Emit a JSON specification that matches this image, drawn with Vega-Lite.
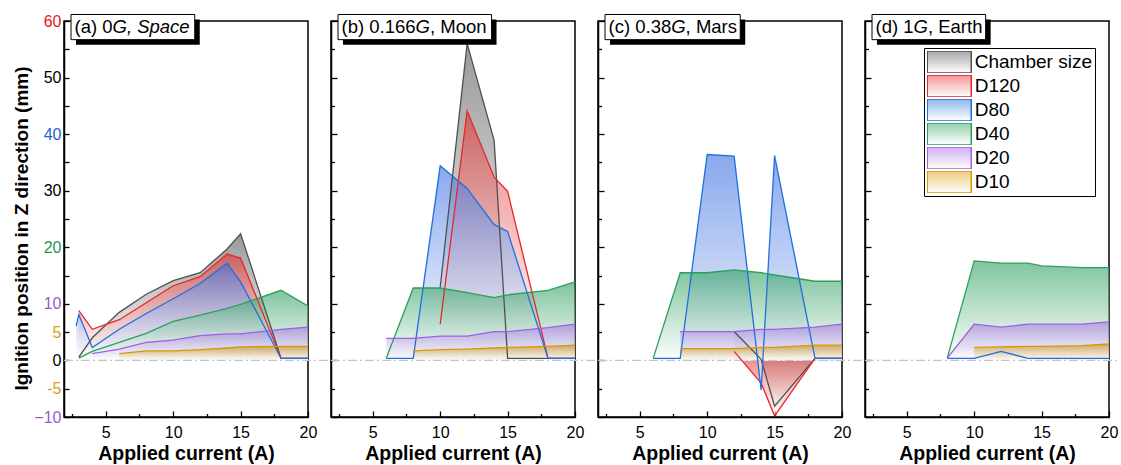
{
"$schema": "https://vega.github.io/schema/vega-lite/v6.json",
"autosize": {"type": "pad"},
"padding": {"left": 11, "top": 12, "right": 2, "bottom": 2},
"background": "white",
"bounds": "flush",
"spacing": 23,
"config": {
  "font": "Liberation Sans",
  "view": {"stroke": "#000000", "strokeWidth": 1.5},
  "axis": {"domainColor": "#000000", "domainWidth": 1.5, "tickColor": "#000000", "tickWidth": 1.3, "labelColor": "#000000", "titleColor": "#000000", "labelFont": "Liberation Sans", "titleFont": "Liberation Sans", "grid": false, "labelFontSize": 16, "titleFontSize": 19.5, "titleFontWeight": "bold", "labelFlush": false, "labelOverlap": false},
  "axisX": {"labelPadding": 13, "titlePadding": 2},
  "axisY": {"labelPadding": 8, "titleX": -33, "titleY": 207, "titleAngle": 270, "titleBaseline": "bottom", "titleAlign": "center", "titleFontSize": 19}
},
"resolve": {"scale": {"color": "shared"}, "legend": {"color": "shared"}},
"datasets": {
"pts": [
{"p":"a","s":"Chamber size","x":3,"y":0.6},{"p":"a","s":"Chamber size","x":4,"y":4.0},{"p":"a","s":"Chamber size","x":6,"y":8.5},{"p":"a","s":"Chamber size","x":8,"y":11.7},{"p":"a","s":"Chamber size","x":10,"y":14.1},{"p":"a","s":"Chamber size","x":12,"y":15.5},{"p":"a","s":"Chamber size","x":14,"y":19.7},{"p":"a","s":"Chamber size","x":15,"y":22.4},{"p":"a","s":"Chamber size","x":18,"y":0.35},{"p":"a","s":"Chamber size","x":20,"y":0.35},
{"p":"a","s":"D120","x":3,"y":8.8},{"p":"a","s":"D120","x":4,"y":5.5},{"p":"a","s":"D120","x":6,"y":7.2},{"p":"a","s":"D120","x":8,"y":10.2},{"p":"a","s":"D120","x":10,"y":13.2},{"p":"a","s":"D120","x":12,"y":14.8},{"p":"a","s":"D120","x":14,"y":18.8},{"p":"a","s":"D120","x":15,"y":18.1},{"p":"a","s":"D120","x":18,"y":0.35},{"p":"a","s":"D120","x":20,"y":0.35},
{"p":"a","s":"D80","x":2.8,"y":6.1},{"p":"a","s":"D80","x":3,"y":8.1},{"p":"a","s":"D80","x":4,"y":2.3},{"p":"a","s":"D80","x":6,"y":5.5},{"p":"a","s":"D80","x":8,"y":8.3},{"p":"a","s":"D80","x":10,"y":10.9},{"p":"a","s":"D80","x":12,"y":13.6},{"p":"a","s":"D80","x":14,"y":17.2},{"p":"a","s":"D80","x":15,"y":13.9},{"p":"a","s":"D80","x":18,"y":0.35},{"p":"a","s":"D80","x":20,"y":0.35},
{"p":"a","s":"D40","x":3,"y":0.4},{"p":"a","s":"D40","x":4,"y":1.6},{"p":"a","s":"D40","x":6,"y":3.2},{"p":"a","s":"D40","x":8,"y":4.8},{"p":"a","s":"D40","x":10,"y":6.9},{"p":"a","s":"D40","x":12,"y":8.0},{"p":"a","s":"D40","x":14,"y":9.2},{"p":"a","s":"D40","x":15,"y":9.9},{"p":"a","s":"D40","x":18,"y":12.4},{"p":"a","s":"D40","x":20,"y":9.6},
{"p":"a","s":"D20","x":4,"y":1.2},{"p":"a","s":"D20","x":6,"y":2.0},{"p":"a","s":"D20","x":8,"y":3.2},{"p":"a","s":"D20","x":10,"y":3.6},{"p":"a","s":"D20","x":12,"y":4.4},{"p":"a","s":"D20","x":14,"y":4.7},{"p":"a","s":"D20","x":15,"y":4.7},{"p":"a","s":"D20","x":18,"y":5.5},{"p":"a","s":"D20","x":20,"y":5.9},
{"p":"a","s":"D10","x":6,"y":1.2},{"p":"a","s":"D10","x":8,"y":1.7},{"p":"a","s":"D10","x":10,"y":1.7},{"p":"a","s":"D10","x":12,"y":1.9},{"p":"a","s":"D10","x":14,"y":2.2},{"p":"a","s":"D10","x":15,"y":2.4},{"p":"a","s":"D10","x":18,"y":2.5},{"p":"a","s":"D10","x":20,"y":2.5},
{"p":"b","s":"Chamber size","x":10,"y":12.9},{"p":"b","s":"Chamber size","x":12,"y":56.0},{"p":"b","s":"Chamber size","x":14,"y":38.9},{"p":"b","s":"Chamber size","x":15,"y":0.35},{"p":"b","s":"Chamber size","x":18,"y":0.35},{"p":"b","s":"Chamber size","x":20,"y":0.35},
{"p":"b","s":"D120","x":10,"y":6.4},{"p":"b","s":"D120","x":12,"y":44.1},{"p":"b","s":"D120","x":14,"y":32.4},{"p":"b","s":"D120","x":15,"y":29.9},{"p":"b","s":"D120","x":18,"y":0.35},{"p":"b","s":"D120","x":20,"y":0.35},
{"p":"b","s":"D80","x":6,"y":0.35},{"p":"b","s":"D80","x":8,"y":0.35},{"p":"b","s":"D80","x":10,"y":34.4},{"p":"b","s":"D80","x":12,"y":30.4},{"p":"b","s":"D80","x":14,"y":24.0},{"p":"b","s":"D80","x":15,"y":22.8},{"p":"b","s":"D80","x":18,"y":0.35},{"p":"b","s":"D80","x":20,"y":0.35},
{"p":"b","s":"D40","x":6,"y":0.4},{"p":"b","s":"D40","x":8,"y":12.8},{"p":"b","s":"D40","x":10,"y":12.8},{"p":"b","s":"D40","x":12,"y":12.0},{"p":"b","s":"D40","x":14,"y":11.1},{"p":"b","s":"D40","x":15,"y":11.6},{"p":"b","s":"D40","x":18,"y":12.4},{"p":"b","s":"D40","x":20,"y":13.9},
{"p":"b","s":"D20","x":6,"y":3.9},{"p":"b","s":"D20","x":8,"y":3.9},{"p":"b","s":"D20","x":10,"y":4.3},{"p":"b","s":"D20","x":12,"y":4.3},{"p":"b","s":"D20","x":14,"y":5.1},{"p":"b","s":"D20","x":15,"y":5.1},{"p":"b","s":"D20","x":18,"y":5.8},{"p":"b","s":"D20","x":20,"y":6.4},
{"p":"b","s":"D10","x":8,"y":1.7},{"p":"b","s":"D10","x":10,"y":1.9},{"p":"b","s":"D10","x":12,"y":2.0},{"p":"b","s":"D10","x":14,"y":2.2},{"p":"b","s":"D10","x":15,"y":2.3},{"p":"b","s":"D10","x":18,"y":2.5},{"p":"b","s":"D10","x":20,"y":2.7},
{"p":"c","s":"Chamber size","x":12,"y":5.1},{"p":"c","s":"Chamber size","x":14,"y":0.2},{"p":"c","s":"Chamber size","x":15,"y":-8.1},{"p":"c","s":"Chamber size","x":18,"y":0.35},{"p":"c","s":"Chamber size","x":20,"y":0.35},
{"p":"c","s":"D120","x":12,"y":1.6},{"p":"c","s":"D120","x":14,"y":-4.0},{"p":"c","s":"D120","x":15,"y":-9.8},{"p":"c","s":"D120","x":18,"y":0.35},{"p":"c","s":"D120","x":20,"y":0.35},
{"p":"c","s":"D80","x":6,"y":0.35},{"p":"c","s":"D80","x":8,"y":0.35},{"p":"c","s":"D80","x":10,"y":36.4},{"p":"c","s":"D80","x":12,"y":36.1},{"p":"c","s":"D80","x":14,"y":-5.2},{"p":"c","s":"D80","x":15,"y":36.2},{"p":"c","s":"D80","x":18,"y":0.35},{"p":"c","s":"D80","x":20,"y":0.35},
{"p":"c","s":"D40","x":6,"y":0.4},{"p":"c","s":"D40","x":8,"y":15.5},{"p":"c","s":"D40","x":10,"y":15.5},{"p":"c","s":"D40","x":12,"y":16.0},{"p":"c","s":"D40","x":14,"y":15.5},{"p":"c","s":"D40","x":15,"y":15.1},{"p":"c","s":"D40","x":18,"y":14.0},{"p":"c","s":"D40","x":20,"y":14.0},
{"p":"c","s":"D20","x":8,"y":5.1},{"p":"c","s":"D20","x":10,"y":5.1},{"p":"c","s":"D20","x":12,"y":5.1},{"p":"c","s":"D20","x":14,"y":5.5},{"p":"c","s":"D20","x":15,"y":5.5},{"p":"c","s":"D20","x":18,"y":5.9},{"p":"c","s":"D20","x":20,"y":6.4},
{"p":"c","s":"D10","x":8,"y":2.1},{"p":"c","s":"D10","x":10,"y":2.1},{"p":"c","s":"D10","x":12,"y":2.1},{"p":"c","s":"D10","x":14,"y":2.3},{"p":"c","s":"D10","x":15,"y":2.3},{"p":"c","s":"D10","x":18,"y":2.7},{"p":"c","s":"D10","x":20,"y":2.7},
{"p":"d","s":"D80","x":8,"y":0.35},{"p":"d","s":"D80","x":10,"y":0.35},{"p":"d","s":"D80","x":12,"y":1.6},{"p":"d","s":"D80","x":14,"y":0.35},{"p":"d","s":"D80","x":15,"y":0.35},{"p":"d","s":"D80","x":18,"y":0.35},{"p":"d","s":"D80","x":20,"y":0.35},
{"p":"d","s":"D40","x":8,"y":0.4},{"p":"d","s":"D40","x":10,"y":17.6},{"p":"d","s":"D40","x":12,"y":17.2},{"p":"d","s":"D40","x":14,"y":17.2},{"p":"d","s":"D40","x":15,"y":16.7},{"p":"d","s":"D40","x":18,"y":16.4},{"p":"d","s":"D40","x":20,"y":16.4},
{"p":"d","s":"D20","x":8,"y":0.4},{"p":"d","s":"D20","x":10,"y":6.4},{"p":"d","s":"D20","x":12,"y":5.9},{"p":"d","s":"D20","x":14,"y":6.4},{"p":"d","s":"D20","x":15,"y":6.4},{"p":"d","s":"D20","x":18,"y":6.4},{"p":"d","s":"D20","x":20,"y":6.8},
{"p":"d","s":"D10","x":10,"y":2.3},{"p":"d","s":"D10","x":12,"y":2.4},{"p":"d","s":"D10","x":14,"y":2.5},{"p":"d","s":"D10","x":15,"y":2.5},{"p":"d","s":"D10","x":18,"y":2.6},{"p":"d","s":"D10","x":20,"y":2.9}
]
},
"hconcat": [
{
 "width": 244, "height": 396,
 "layer": [
  {"data": {"name": "pts"}, "transform": [{"filter": "datum.p=='a' && datum.s=='Chamber size'"}], "mark": {"type": "area", "fill": {"gradient": "linear", "x1": 0, "y1": 0, "x2": 0, "y2": 1, "stops": [{"offset": 0, "color": "#6e6e6e"}, {"offset": 1, "color": "#ffffff"}]}, "fillOpacity": 0.7},
   "encoding": {"x": {"field": "x", "type": "quantitative", "scale": {"domain": [1.9, 20], "nice": false, "zero": false}, "axis": {"values": [2.5,5,7.5,10,12.5,15,17.5,20], "labelExpr": "datum.value % 5 == 0 ? datum.label : ''", "tickSize": {"condition": {"test": "datum.value % 5 == 0", "value": -6}, "value": -3.5}, "title": "Applied current (A)"}},
    "y": {"field": "y", "type": "quantitative", "stack": null, "scale": {"domain": [-10, 60], "nice": false, "zero": false}, "axis": {"values": [-10,-5,0,5,10,15,20,25,30,35,40,45,50,55,60], "labelExpr": "(datum.value==15||datum.value==25||datum.value==35||datum.value==45||datum.value==55)?'':datum.value==-5?'-5':datum.value==-10?'−10':datum.label", "tickSize": -5, "labelColor": {"condition": [{"test": "datum.value == 60", "value": "#e8161c"}, {"test": "datum.value == 40", "value": "#1f5fd6"}, {"test": "datum.value == 20", "value": "#1a9850"}, {"test": "datum.value == 10 || datum.value == -10", "value": "#9b59d0"}, {"test": "datum.value == 5 || datum.value == -5", "value": "#d4a017"}], "value": "#000000"}, "title": "Ignition position in Z direction (mm)"}}}},
  {"data": {"name": "pts"}, "transform": [{"filter": "datum.p=='a' && datum.s=='D120'"}], "mark": {"type": "area", "fill": {"gradient": "linear", "x1": 0, "y1": 0, "x2": 0, "y2": 1, "stops": [{"offset": 0, "color": "#e03030"}, {"offset": 1, "color": "#ffffff"}]}, "fillOpacity": 0.6},
   "encoding": {"x": {"field": "x", "type": "quantitative", "scale": {"domain": [1.9, 20], "nice": false, "zero": false}, "axis": {"values": [2.5,5,7.5,10,12.5,15,17.5,20], "labelExpr": "datum.value % 5 == 0 ? datum.label : ''", "tickSize": {"condition": {"test": "datum.value % 5 == 0", "value": -6}, "value": -3.5}, "title": "Applied current (A)"}},
    "y": {"field": "y", "type": "quantitative", "stack": null, "scale": {"domain": [-10, 60], "nice": false, "zero": false}, "axis": {"values": [-10,-5,0,5,10,15,20,25,30,35,40,45,50,55,60], "labelExpr": "(datum.value==15||datum.value==25||datum.value==35||datum.value==45||datum.value==55)?'':datum.value==-5?'-5':datum.value==-10?'−10':datum.label", "tickSize": -5, "labelColor": {"condition": [{"test": "datum.value == 60", "value": "#e8161c"}, {"test": "datum.value == 40", "value": "#1f5fd6"}, {"test": "datum.value == 20", "value": "#1a9850"}, {"test": "datum.value == 10 || datum.value == -10", "value": "#9b59d0"}, {"test": "datum.value == 5 || datum.value == -5", "value": "#d4a017"}], "value": "#000000"}, "title": "Ignition position in Z direction (mm)"}}}},
  {"data": {"name": "pts"}, "transform": [{"filter": "datum.p=='a' && datum.s=='D80'"}], "mark": {"type": "area", "fill": {"gradient": "linear", "x1": 0, "y1": 0, "x2": 0, "y2": 1, "stops": [{"offset": 0, "color": "#3a6fe0"}, {"offset": 1, "color": "#ffffff"}]}, "fillOpacity": 0.6},
   "encoding": {"x": {"field": "x", "type": "quantitative", "scale": {"domain": [1.9, 20], "nice": false, "zero": false}, "axis": {"values": [2.5,5,7.5,10,12.5,15,17.5,20], "labelExpr": "datum.value % 5 == 0 ? datum.label : ''", "tickSize": {"condition": {"test": "datum.value % 5 == 0", "value": -6}, "value": -3.5}, "title": "Applied current (A)"}},
    "y": {"field": "y", "type": "quantitative", "stack": null, "scale": {"domain": [-10, 60], "nice": false, "zero": false}, "axis": {"values": [-10,-5,0,5,10,15,20,25,30,35,40,45,50,55,60], "labelExpr": "(datum.value==15||datum.value==25||datum.value==35||datum.value==45||datum.value==55)?'':datum.value==-5?'-5':datum.value==-10?'−10':datum.label", "tickSize": -5, "labelColor": {"condition": [{"test": "datum.value == 60", "value": "#e8161c"}, {"test": "datum.value == 40", "value": "#1f5fd6"}, {"test": "datum.value == 20", "value": "#1a9850"}, {"test": "datum.value == 10 || datum.value == -10", "value": "#9b59d0"}, {"test": "datum.value == 5 || datum.value == -5", "value": "#d4a017"}], "value": "#000000"}, "title": "Ignition position in Z direction (mm)"}}}},
  {"data": {"name": "pts"}, "transform": [{"filter": "datum.p=='a' && datum.s=='D40'"}], "mark": {"type": "area", "fill": {"gradient": "linear", "x1": 0, "y1": 0, "x2": 0, "y2": 1, "stops": [{"offset": 0, "color": "#2a9d5c"}, {"offset": 1, "color": "#ffffff"}]}, "fillOpacity": 0.6},
   "encoding": {"x": {"field": "x", "type": "quantitative", "scale": {"domain": [1.9, 20], "nice": false, "zero": false}, "axis": {"values": [2.5,5,7.5,10,12.5,15,17.5,20], "labelExpr": "datum.value % 5 == 0 ? datum.label : ''", "tickSize": {"condition": {"test": "datum.value % 5 == 0", "value": -6}, "value": -3.5}, "title": "Applied current (A)"}},
    "y": {"field": "y", "type": "quantitative", "stack": null, "scale": {"domain": [-10, 60], "nice": false, "zero": false}, "axis": {"values": [-10,-5,0,5,10,15,20,25,30,35,40,45,50,55,60], "labelExpr": "(datum.value==15||datum.value==25||datum.value==35||datum.value==45||datum.value==55)?'':datum.value==-5?'-5':datum.value==-10?'−10':datum.label", "tickSize": -5, "labelColor": {"condition": [{"test": "datum.value == 60", "value": "#e8161c"}, {"test": "datum.value == 40", "value": "#1f5fd6"}, {"test": "datum.value == 20", "value": "#1a9850"}, {"test": "datum.value == 10 || datum.value == -10", "value": "#9b59d0"}, {"test": "datum.value == 5 || datum.value == -5", "value": "#d4a017"}], "value": "#000000"}, "title": "Ignition position in Z direction (mm)"}}}},
  {"data": {"name": "pts"}, "transform": [{"filter": "datum.p=='a' && datum.s=='D20'"}], "mark": {"type": "area", "fill": {"gradient": "linear", "x1": 0, "y1": 0, "x2": 0, "y2": 1, "stops": [{"offset": 0, "color": "#9b5fe0"}, {"offset": 1, "color": "#ffffff"}]}, "fillOpacity": 0.5},
   "encoding": {"x": {"field": "x", "type": "quantitative", "scale": {"domain": [1.9, 20], "nice": false, "zero": false}, "axis": {"values": [2.5,5,7.5,10,12.5,15,17.5,20], "labelExpr": "datum.value % 5 == 0 ? datum.label : ''", "tickSize": {"condition": {"test": "datum.value % 5 == 0", "value": -6}, "value": -3.5}, "title": "Applied current (A)"}},
    "y": {"field": "y", "type": "quantitative", "stack": null, "scale": {"domain": [-10, 60], "nice": false, "zero": false}, "axis": {"values": [-10,-5,0,5,10,15,20,25,30,35,40,45,50,55,60], "labelExpr": "(datum.value==15||datum.value==25||datum.value==35||datum.value==45||datum.value==55)?'':datum.value==-5?'-5':datum.value==-10?'−10':datum.label", "tickSize": -5, "labelColor": {"condition": [{"test": "datum.value == 60", "value": "#e8161c"}, {"test": "datum.value == 40", "value": "#1f5fd6"}, {"test": "datum.value == 20", "value": "#1a9850"}, {"test": "datum.value == 10 || datum.value == -10", "value": "#9b59d0"}, {"test": "datum.value == 5 || datum.value == -5", "value": "#d4a017"}], "value": "#000000"}, "title": "Ignition position in Z direction (mm)"}}}},
  {"data": {"name": "pts"}, "transform": [{"filter": "datum.p=='a' && datum.s=='D10'"}], "mark": {"type": "area", "fill": {"gradient": "linear", "x1": 0, "y1": 0, "x2": 0, "y2": 1, "stops": [{"offset": 0, "color": "#c08a10"}, {"offset": 1, "color": "#ffffff"}]}, "fillOpacity": 0.6},
   "encoding": {"x": {"field": "x", "type": "quantitative", "scale": {"domain": [1.9, 20], "nice": false, "zero": false}, "axis": {"values": [2.5,5,7.5,10,12.5,15,17.5,20], "labelExpr": "datum.value % 5 == 0 ? datum.label : ''", "tickSize": {"condition": {"test": "datum.value % 5 == 0", "value": -6}, "value": -3.5}, "title": "Applied current (A)"}},
    "y": {"field": "y", "type": "quantitative", "stack": null, "scale": {"domain": [-10, 60], "nice": false, "zero": false}, "axis": {"values": [-10,-5,0,5,10,15,20,25,30,35,40,45,50,55,60], "labelExpr": "(datum.value==15||datum.value==25||datum.value==35||datum.value==45||datum.value==55)?'':datum.value==-5?'-5':datum.value==-10?'−10':datum.label", "tickSize": -5, "labelColor": {"condition": [{"test": "datum.value == 60", "value": "#e8161c"}, {"test": "datum.value == 40", "value": "#1f5fd6"}, {"test": "datum.value == 20", "value": "#1a9850"}, {"test": "datum.value == 10 || datum.value == -10", "value": "#9b59d0"}, {"test": "datum.value == 5 || datum.value == -5", "value": "#d4a017"}], "value": "#000000"}, "title": "Ignition position in Z direction (mm)"}}}},
  {"data": {"values": [{"k": 1}]}, "mark": {"type": "rule", "color": "#c4c4c4", "strokeWidth": 1.2, "strokeDash": [9, 3, 2, 3]},
   "encoding": {"x": {"datum": 1.9, "type": "quantitative", "scale": {"domain": [1.9, 20], "nice": false, "zero": false}, "axis": {"values": [2.5,5,7.5,10,12.5,15,17.5,20], "labelExpr": "datum.value % 5 == 0 ? datum.label : ''", "tickSize": {"condition": {"test": "datum.value % 5 == 0", "value": -6}, "value": -3.5}, "title": "Applied current (A)"}}, "x2": {"datum": 21.6},
    "y": {"datum": 0, "type": "quantitative", "scale": {"domain": [-10, 60], "nice": false, "zero": false}, "axis": {"values": [-10,-5,0,5,10,15,20,25,30,35,40,45,50,55,60], "labelExpr": "(datum.value==15||datum.value==25||datum.value==35||datum.value==45||datum.value==55)?'':datum.value==-5?'-5':datum.value==-10?'−10':datum.label", "tickSize": -5, "labelColor": {"condition": [{"test": "datum.value == 60", "value": "#e8161c"}, {"test": "datum.value == 40", "value": "#1f5fd6"}, {"test": "datum.value == 20", "value": "#1a9850"}, {"test": "datum.value == 10 || datum.value == -10", "value": "#9b59d0"}, {"test": "datum.value == 5 || datum.value == -5", "value": "#d4a017"}], "value": "#000000"}, "title": "Ignition position in Z direction (mm)"}}}},
  {"data": {"name": "pts"}, "transform": [{"filter": "datum.p=='a'"}], "mark": {"type": "line", "strokeWidth": 1.3},
   "encoding": {"x": {"field": "x", "type": "quantitative", "scale": {"domain": [1.9, 20], "nice": false, "zero": false}, "axis": {"values": [2.5,5,7.5,10,12.5,15,17.5,20], "labelExpr": "datum.value % 5 == 0 ? datum.label : ''", "tickSize": {"condition": {"test": "datum.value % 5 == 0", "value": -6}, "value": -3.5}, "title": "Applied current (A)"}},
    "y": {"field": "y", "type": "quantitative", "stack": null, "scale": {"domain": [-10, 60], "nice": false, "zero": false}, "axis": {"values": [-10,-5,0,5,10,15,20,25,30,35,40,45,50,55,60], "labelExpr": "(datum.value==15||datum.value==25||datum.value==35||datum.value==45||datum.value==55)?'':datum.value==-5?'-5':datum.value==-10?'−10':datum.label", "tickSize": -5, "labelColor": {"condition": [{"test": "datum.value == 60", "value": "#e8161c"}, {"test": "datum.value == 40", "value": "#1f5fd6"}, {"test": "datum.value == 20", "value": "#1a9850"}, {"test": "datum.value == 10 || datum.value == -10", "value": "#9b59d0"}, {"test": "datum.value == 5 || datum.value == -5", "value": "#d4a017"}], "value": "#000000"}, "title": "Ignition position in Z direction (mm)"}},
    "color": {"field": "s", "type": "nominal", "scale": {"domain": ["Chamber size","D120","D80","D40","D20","D10"], "range": ["#505050","#e8262a","#1f6fde","#2aa15a","#a25de6","#d49b00"]},
     "legend": {"orient": "none", "legendX": 860, "legendY": 27, "title": null, "symbolType": "M-2,-1H2V1H-2Z", "symbolSize": 484, "symbolStrokeWidth": 1.5, "symbolOffset": 10.25, "labelOffset": 13.5, "labelFontSize": 19, "labelFont": "Liberation Sans", "labelColor": "#000000", "rowPadding": 2, "clipHeight": 22, "padding": 3, "strokeColor": "#000000", "fillColor": "#ffffff", "cornerRadius": 0, "labelLimit": 300,
       "encode": {"symbols": {"update": {"fill": {"signal": "{gradient:'linear',x1:0,y1:0,x2:0,y2:1,stops:[{offset:0,color:scale('color',datum.value)},{offset:1,color:'#ffffff'}]}"}, "fillOpacity": {"value": 0.5}}}}}}}},
  {"data": {"values": [{"k": 1}]}, "mark": {"type": "rect", "color": "#000000"},
   "encoding": {"x": {"datum": 2.79, "type": "quantitative", "scale": {"domain": [1.9, 20], "nice": false, "zero": false}, "axis": {"values": [2.5,5,7.5,10,12.5,15,17.5,20], "labelExpr": "datum.value % 5 == 0 ? datum.label : ''", "tickSize": {"condition": {"test": "datum.value % 5 == 0", "value": -6}, "value": -3.5}, "title": "Applied current (A)"}}, "x2": {"datum": 11.97},
    "y": {"datum": 60.27, "type": "quantitative", "scale": {"domain": [-10, 60], "nice": false, "zero": false}, "axis": {"values": [-10,-5,0,5,10,15,20,25,30,35,40,45,50,55,60], "labelExpr": "(datum.value==15||datum.value==25||datum.value==35||datum.value==45||datum.value==55)?'':datum.value==-5?'-5':datum.value==-10?'−10':datum.label", "tickSize": -5, "labelColor": {"condition": [{"test": "datum.value == 60", "value": "#e8161c"}, {"test": "datum.value == 40", "value": "#1f5fd6"}, {"test": "datum.value == 20", "value": "#1a9850"}, {"test": "datum.value == 10 || datum.value == -10", "value": "#9b59d0"}, {"test": "datum.value == 5 || datum.value == -5", "value": "#d4a017"}], "value": "#000000"}, "title": "Ignition position in Z direction (mm)"}}, "y2": {"datum": 55.8}}},
  {"data": {"values": [{"k": 1}]}, "mark": {"type": "rect", "fill": "#ffffff", "stroke": "#000000", "strokeWidth": 1},
   "encoding": {"x": {"datum": 2.42, "type": "quantitative", "scale": {"domain": [1.9, 20], "nice": false, "zero": false}, "axis": {"values": [2.5,5,7.5,10,12.5,15,17.5,20], "labelExpr": "datum.value % 5 == 0 ? datum.label : ''", "tickSize": {"condition": {"test": "datum.value % 5 == 0", "value": -6}, "value": -3.5}, "title": "Applied current (A)"}}, "x2": {"datum": 11.6},
    "y": {"datum": 61.15, "type": "quantitative", "scale": {"domain": [-10, 60], "nice": false, "zero": false}, "axis": {"values": [-10,-5,0,5,10,15,20,25,30,35,40,45,50,55,60], "labelExpr": "(datum.value==15||datum.value==25||datum.value==35||datum.value==45||datum.value==55)?'':datum.value==-5?'-5':datum.value==-10?'−10':datum.label", "tickSize": -5, "labelColor": {"condition": [{"test": "datum.value == 60", "value": "#e8161c"}, {"test": "datum.value == 40", "value": "#1f5fd6"}, {"test": "datum.value == 20", "value": "#1a9850"}, {"test": "datum.value == 10 || datum.value == -10", "value": "#9b59d0"}, {"test": "datum.value == 5 || datum.value == -5", "value": "#d4a017"}], "value": "#000000"}, "title": "Ignition position in Z direction (mm)"}}, "y2": {"datum": 56.7}}},
  {"data": {"values": [{"t": "(a) 0"}]}, "mark": {"type": "text", "align": "left", "baseline": "middle", "fontSize": 18.5, "font": "Liberation Sans", "color": "#000000"},
   "encoding": {"x": {"datum": 2.68, "type": "quantitative", "scale": {"domain": [1.9, 20], "nice": false, "zero": false}, "axis": {"values": [2.5,5,7.5,10,12.5,15,17.5,20], "labelExpr": "datum.value % 5 == 0 ? datum.label : ''", "tickSize": {"condition": {"test": "datum.value % 5 == 0", "value": -6}, "value": -3.5}, "title": "Applied current (A)"}},
    "y": {"datum": 58.9, "type": "quantitative", "scale": {"domain": [-10, 60], "nice": false, "zero": false}, "axis": {"values": [-10,-5,0,5,10,15,20,25,30,35,40,45,50,55,60], "labelExpr": "(datum.value==15||datum.value==25||datum.value==35||datum.value==45||datum.value==55)?'':datum.value==-5?'-5':datum.value==-10?'−10':datum.label", "tickSize": -5, "labelColor": {"condition": [{"test": "datum.value == 60", "value": "#e8161c"}, {"test": "datum.value == 40", "value": "#1f5fd6"}, {"test": "datum.value == 20", "value": "#1a9850"}, {"test": "datum.value == 10 || datum.value == -10", "value": "#9b59d0"}, {"test": "datum.value == 5 || datum.value == -5", "value": "#d4a017"}], "value": "#000000"}, "title": "Ignition position in Z direction (mm)"}}, "text": {"field": "t"}}},
  {"data": {"values": [{"t": "G, Space"}]}, "mark": {"type": "text", "align": "left", "baseline": "middle", "fontSize": 18.5, "font": "Liberation Sans", "fontStyle": "italic", "color": "#000000"},
   "encoding": {"x": {"datum": 5.5, "type": "quantitative", "scale": {"domain": [1.9, 20], "nice": false, "zero": false}, "axis": {"values": [2.5,5,7.5,10,12.5,15,17.5,20], "labelExpr": "datum.value % 5 == 0 ? datum.label : ''", "tickSize": {"condition": {"test": "datum.value % 5 == 0", "value": -6}, "value": -3.5}, "title": "Applied current (A)"}},
    "y": {"datum": 58.9, "type": "quantitative", "scale": {"domain": [-10, 60], "nice": false, "zero": false}, "axis": {"values": [-10,-5,0,5,10,15,20,25,30,35,40,45,50,55,60], "labelExpr": "(datum.value==15||datum.value==25||datum.value==35||datum.value==45||datum.value==55)?'':datum.value==-5?'-5':datum.value==-10?'−10':datum.label", "tickSize": -5, "labelColor": {"condition": [{"test": "datum.value == 60", "value": "#e8161c"}, {"test": "datum.value == 40", "value": "#1f5fd6"}, {"test": "datum.value == 20", "value": "#1a9850"}, {"test": "datum.value == 10 || datum.value == -10", "value": "#9b59d0"}, {"test": "datum.value == 5 || datum.value == -5", "value": "#d4a017"}], "value": "#000000"}, "title": "Ignition position in Z direction (mm)"}}, "text": {"field": "t"}}}
 ]
},
{
 "width": 244, "height": 396,
 "layer": [
  {"data": {"name": "pts"}, "transform": [{"filter": "datum.p=='b' && datum.s=='Chamber size'"}], "mark": {"type": "area", "fill": {"gradient": "linear", "x1": 0, "y1": 0, "x2": 0, "y2": 1, "stops": [{"offset": 0, "color": "#6e6e6e"}, {"offset": 1, "color": "#ffffff"}]}, "fillOpacity": 0.7},
   "encoding": {"x": {"field": "x", "type": "quantitative", "scale": {"domain": [1.9, 20], "nice": false, "zero": false}, "axis": {"values": [2.5,5,7.5,10,12.5,15,17.5,20], "labelExpr": "datum.value % 5 == 0 ? datum.label : ''", "tickSize": {"condition": {"test": "datum.value % 5 == 0", "value": -6}, "value": -3.5}, "title": "Applied current (A)"}},
    "y": {"field": "y", "type": "quantitative", "stack": null, "scale": {"domain": [-10, 60], "nice": false, "zero": false}, "axis": {"values": [-10,-5,0,5,10,15,20,25,30,35,40,45,50,55,60], "labels": false, "title": null, "tickSize": {"condition": {"test": "datum.value % 10 == 0", "value": -6}, "value": -3.5}}}}},
  {"data": {"name": "pts"}, "transform": [{"filter": "datum.p=='b' && datum.s=='D120'"}], "mark": {"type": "area", "fill": {"gradient": "linear", "x1": 0, "y1": 0, "x2": 0, "y2": 1, "stops": [{"offset": 0, "color": "#e03030"}, {"offset": 1, "color": "#ffffff"}]}, "fillOpacity": 0.6},
   "encoding": {"x": {"field": "x", "type": "quantitative", "scale": {"domain": [1.9, 20], "nice": false, "zero": false}, "axis": {"values": [2.5,5,7.5,10,12.5,15,17.5,20], "labelExpr": "datum.value % 5 == 0 ? datum.label : ''", "tickSize": {"condition": {"test": "datum.value % 5 == 0", "value": -6}, "value": -3.5}, "title": "Applied current (A)"}},
    "y": {"field": "y", "type": "quantitative", "stack": null, "scale": {"domain": [-10, 60], "nice": false, "zero": false}, "axis": {"values": [-10,-5,0,5,10,15,20,25,30,35,40,45,50,55,60], "labels": false, "title": null, "tickSize": {"condition": {"test": "datum.value % 10 == 0", "value": -6}, "value": -3.5}}}}},
  {"data": {"name": "pts"}, "transform": [{"filter": "datum.p=='b' && datum.s=='D80'"}], "mark": {"type": "area", "fill": {"gradient": "linear", "x1": 0, "y1": 0, "x2": 0, "y2": 1, "stops": [{"offset": 0, "color": "#3a6fe0"}, {"offset": 1, "color": "#ffffff"}]}, "fillOpacity": 0.6},
   "encoding": {"x": {"field": "x", "type": "quantitative", "scale": {"domain": [1.9, 20], "nice": false, "zero": false}, "axis": {"values": [2.5,5,7.5,10,12.5,15,17.5,20], "labelExpr": "datum.value % 5 == 0 ? datum.label : ''", "tickSize": {"condition": {"test": "datum.value % 5 == 0", "value": -6}, "value": -3.5}, "title": "Applied current (A)"}},
    "y": {"field": "y", "type": "quantitative", "stack": null, "scale": {"domain": [-10, 60], "nice": false, "zero": false}, "axis": {"values": [-10,-5,0,5,10,15,20,25,30,35,40,45,50,55,60], "labels": false, "title": null, "tickSize": {"condition": {"test": "datum.value % 10 == 0", "value": -6}, "value": -3.5}}}}},
  {"data": {"name": "pts"}, "transform": [{"filter": "datum.p=='b' && datum.s=='D40'"}], "mark": {"type": "area", "fill": {"gradient": "linear", "x1": 0, "y1": 0, "x2": 0, "y2": 1, "stops": [{"offset": 0, "color": "#2a9d5c"}, {"offset": 1, "color": "#ffffff"}]}, "fillOpacity": 0.6},
   "encoding": {"x": {"field": "x", "type": "quantitative", "scale": {"domain": [1.9, 20], "nice": false, "zero": false}, "axis": {"values": [2.5,5,7.5,10,12.5,15,17.5,20], "labelExpr": "datum.value % 5 == 0 ? datum.label : ''", "tickSize": {"condition": {"test": "datum.value % 5 == 0", "value": -6}, "value": -3.5}, "title": "Applied current (A)"}},
    "y": {"field": "y", "type": "quantitative", "stack": null, "scale": {"domain": [-10, 60], "nice": false, "zero": false}, "axis": {"values": [-10,-5,0,5,10,15,20,25,30,35,40,45,50,55,60], "labels": false, "title": null, "tickSize": {"condition": {"test": "datum.value % 10 == 0", "value": -6}, "value": -3.5}}}}},
  {"data": {"name": "pts"}, "transform": [{"filter": "datum.p=='b' && datum.s=='D20'"}], "mark": {"type": "area", "fill": {"gradient": "linear", "x1": 0, "y1": 0, "x2": 0, "y2": 1, "stops": [{"offset": 0, "color": "#9b5fe0"}, {"offset": 1, "color": "#ffffff"}]}, "fillOpacity": 0.5},
   "encoding": {"x": {"field": "x", "type": "quantitative", "scale": {"domain": [1.9, 20], "nice": false, "zero": false}, "axis": {"values": [2.5,5,7.5,10,12.5,15,17.5,20], "labelExpr": "datum.value % 5 == 0 ? datum.label : ''", "tickSize": {"condition": {"test": "datum.value % 5 == 0", "value": -6}, "value": -3.5}, "title": "Applied current (A)"}},
    "y": {"field": "y", "type": "quantitative", "stack": null, "scale": {"domain": [-10, 60], "nice": false, "zero": false}, "axis": {"values": [-10,-5,0,5,10,15,20,25,30,35,40,45,50,55,60], "labels": false, "title": null, "tickSize": {"condition": {"test": "datum.value % 10 == 0", "value": -6}, "value": -3.5}}}}},
  {"data": {"name": "pts"}, "transform": [{"filter": "datum.p=='b' && datum.s=='D10'"}], "mark": {"type": "area", "fill": {"gradient": "linear", "x1": 0, "y1": 0, "x2": 0, "y2": 1, "stops": [{"offset": 0, "color": "#c08a10"}, {"offset": 1, "color": "#ffffff"}]}, "fillOpacity": 0.6},
   "encoding": {"x": {"field": "x", "type": "quantitative", "scale": {"domain": [1.9, 20], "nice": false, "zero": false}, "axis": {"values": [2.5,5,7.5,10,12.5,15,17.5,20], "labelExpr": "datum.value % 5 == 0 ? datum.label : ''", "tickSize": {"condition": {"test": "datum.value % 5 == 0", "value": -6}, "value": -3.5}, "title": "Applied current (A)"}},
    "y": {"field": "y", "type": "quantitative", "stack": null, "scale": {"domain": [-10, 60], "nice": false, "zero": false}, "axis": {"values": [-10,-5,0,5,10,15,20,25,30,35,40,45,50,55,60], "labels": false, "title": null, "tickSize": {"condition": {"test": "datum.value % 10 == 0", "value": -6}, "value": -3.5}}}}},
  {"data": {"values": [{"k": 1}]}, "mark": {"type": "rule", "color": "#c4c4c4", "strokeWidth": 1.2, "strokeDash": [9, 3, 2, 3]},
   "encoding": {"x": {"datum": 1.9, "type": "quantitative", "scale": {"domain": [1.9, 20], "nice": false, "zero": false}, "axis": {"values": [2.5,5,7.5,10,12.5,15,17.5,20], "labelExpr": "datum.value % 5 == 0 ? datum.label : ''", "tickSize": {"condition": {"test": "datum.value % 5 == 0", "value": -6}, "value": -3.5}, "title": "Applied current (A)"}}, "x2": {"datum": 21.6},
    "y": {"datum": 0, "type": "quantitative", "scale": {"domain": [-10, 60], "nice": false, "zero": false}, "axis": {"values": [-10,-5,0,5,10,15,20,25,30,35,40,45,50,55,60], "labels": false, "title": null, "tickSize": {"condition": {"test": "datum.value % 10 == 0", "value": -6}, "value": -3.5}}}}},
  {"data": {"name": "pts"}, "transform": [{"filter": "datum.p=='b'"}], "mark": {"type": "line", "strokeWidth": 1.3},
   "encoding": {"x": {"field": "x", "type": "quantitative", "scale": {"domain": [1.9, 20], "nice": false, "zero": false}, "axis": {"values": [2.5,5,7.5,10,12.5,15,17.5,20], "labelExpr": "datum.value % 5 == 0 ? datum.label : ''", "tickSize": {"condition": {"test": "datum.value % 5 == 0", "value": -6}, "value": -3.5}, "title": "Applied current (A)"}},
    "y": {"field": "y", "type": "quantitative", "stack": null, "scale": {"domain": [-10, 60], "nice": false, "zero": false}, "axis": {"values": [-10,-5,0,5,10,15,20,25,30,35,40,45,50,55,60], "labels": false, "title": null, "tickSize": {"condition": {"test": "datum.value % 10 == 0", "value": -6}, "value": -3.5}}},
    "color": {"field": "s", "type": "nominal", "scale": {"domain": ["Chamber size","D120","D80","D40","D20","D10"], "range": ["#505050","#e8262a","#1f6fde","#2aa15a","#a25de6","#d49b00"]}}}},
  {"data": {"values": [{"k": 1}]}, "mark": {"type": "rect", "color": "#000000"},
   "encoding": {"x": {"datum": 2.79, "type": "quantitative", "scale": {"domain": [1.9, 20], "nice": false, "zero": false}, "axis": {"values": [2.5,5,7.5,10,12.5,15,17.5,20], "labelExpr": "datum.value % 5 == 0 ? datum.label : ''", "tickSize": {"condition": {"test": "datum.value % 5 == 0", "value": -6}, "value": -3.5}, "title": "Applied current (A)"}}, "x2": {"datum": 14.18},
    "y": {"datum": 60.27, "type": "quantitative", "scale": {"domain": [-10, 60], "nice": false, "zero": false}, "axis": {"values": [-10,-5,0,5,10,15,20,25,30,35,40,45,50,55,60], "labels": false, "title": null, "tickSize": {"condition": {"test": "datum.value % 10 == 0", "value": -6}, "value": -3.5}}}, "y2": {"datum": 55.8}}},
  {"data": {"values": [{"k": 1}]}, "mark": {"type": "rect", "fill": "#ffffff", "stroke": "#000000", "strokeWidth": 1},
   "encoding": {"x": {"datum": 2.42, "type": "quantitative", "scale": {"domain": [1.9, 20], "nice": false, "zero": false}, "axis": {"values": [2.5,5,7.5,10,12.5,15,17.5,20], "labelExpr": "datum.value % 5 == 0 ? datum.label : ''", "tickSize": {"condition": {"test": "datum.value % 5 == 0", "value": -6}, "value": -3.5}, "title": "Applied current (A)"}}, "x2": {"datum": 13.81},
    "y": {"datum": 61.15, "type": "quantitative", "scale": {"domain": [-10, 60], "nice": false, "zero": false}, "axis": {"values": [-10,-5,0,5,10,15,20,25,30,35,40,45,50,55,60], "labels": false, "title": null, "tickSize": {"condition": {"test": "datum.value % 10 == 0", "value": -6}, "value": -3.5}}}, "y2": {"datum": 56.7}}},
  {"data": {"values": [{"t": "(b) 0.166"}]}, "mark": {"type": "text", "align": "left", "baseline": "middle", "fontSize": 18.5, "font": "Liberation Sans", "color": "#000000"},
   "encoding": {"x": {"datum": 2.68, "type": "quantitative", "scale": {"domain": [1.9, 20], "nice": false, "zero": false}, "axis": {"values": [2.5,5,7.5,10,12.5,15,17.5,20], "labelExpr": "datum.value % 5 == 0 ? datum.label : ''", "tickSize": {"condition": {"test": "datum.value % 5 == 0", "value": -6}, "value": -3.5}, "title": "Applied current (A)"}},
    "y": {"datum": 58.9, "type": "quantitative", "scale": {"domain": [-10, 60], "nice": false, "zero": false}, "axis": {"values": [-10,-5,0,5,10,15,20,25,30,35,40,45,50,55,60], "labels": false, "title": null, "tickSize": {"condition": {"test": "datum.value % 10 == 0", "value": -6}, "value": -3.5}}}, "text": {"field": "t"}}},
  {"data": {"values": [{"t": "G"}]}, "mark": {"type": "text", "align": "left", "baseline": "middle", "fontSize": 18.5, "font": "Liberation Sans", "fontStyle": "italic", "color": "#000000"},
   "encoding": {"x": {"datum": 8.17, "type": "quantitative", "scale": {"domain": [1.9, 20], "nice": false, "zero": false}, "axis": {"values": [2.5,5,7.5,10,12.5,15,17.5,20], "labelExpr": "datum.value % 5 == 0 ? datum.label : ''", "tickSize": {"condition": {"test": "datum.value % 5 == 0", "value": -6}, "value": -3.5}, "title": "Applied current (A)"}},
    "y": {"datum": 58.9, "type": "quantitative", "scale": {"domain": [-10, 60], "nice": false, "zero": false}, "axis": {"values": [-10,-5,0,5,10,15,20,25,30,35,40,45,50,55,60], "labels": false, "title": null, "tickSize": {"condition": {"test": "datum.value % 10 == 0", "value": -6}, "value": -3.5}}}, "text": {"field": "t"}}},
  {"data": {"values": [{"t": ", Moon"}]}, "mark": {"type": "text", "align": "left", "baseline": "middle", "fontSize": 18.5, "font": "Liberation Sans", "color": "#000000"},
   "encoding": {"x": {"datum": 9.24, "type": "quantitative", "scale": {"domain": [1.9, 20], "nice": false, "zero": false}, "axis": {"values": [2.5,5,7.5,10,12.5,15,17.5,20], "labelExpr": "datum.value % 5 == 0 ? datum.label : ''", "tickSize": {"condition": {"test": "datum.value % 5 == 0", "value": -6}, "value": -3.5}, "title": "Applied current (A)"}},
    "y": {"datum": 58.9, "type": "quantitative", "scale": {"domain": [-10, 60], "nice": false, "zero": false}, "axis": {"values": [-10,-5,0,5,10,15,20,25,30,35,40,45,50,55,60], "labels": false, "title": null, "tickSize": {"condition": {"test": "datum.value % 10 == 0", "value": -6}, "value": -3.5}}}, "text": {"field": "t"}}}
 ]
},
{
 "width": 244, "height": 396,
 "layer": [
  {"data": {"name": "pts"}, "transform": [{"filter": "datum.p=='c' && datum.s=='Chamber size'"}], "mark": {"type": "area", "fill": {"gradient": "linear", "x1": 0, "y1": 0, "x2": 0, "y2": 1, "stops": [{"offset": 0, "color": "#6e6e6e"}, {"offset": 1, "color": "#ffffff"}]}, "fillOpacity": 0.7},
   "encoding": {"x": {"field": "x", "type": "quantitative", "scale": {"domain": [1.9, 20], "nice": false, "zero": false}, "axis": {"values": [2.5,5,7.5,10,12.5,15,17.5,20], "labelExpr": "datum.value % 5 == 0 ? datum.label : ''", "tickSize": {"condition": {"test": "datum.value % 5 == 0", "value": -6}, "value": -3.5}, "title": "Applied current (A)"}},
    "y": {"field": "y", "type": "quantitative", "stack": null, "scale": {"domain": [-10, 60], "nice": false, "zero": false}, "axis": {"values": [-10,-5,0,5,10,15,20,25,30,35,40,45,50,55,60], "labels": false, "title": null, "tickSize": {"condition": {"test": "datum.value % 10 == 0", "value": -6}, "value": -3.5}}}}},
  {"data": {"name": "pts"}, "transform": [{"filter": "datum.p=='c' && datum.s=='D120'"}], "mark": {"type": "area", "fill": {"gradient": "linear", "x1": 0, "y1": 0, "x2": 0, "y2": 1, "stops": [{"offset": 0, "color": "#e03030"}, {"offset": 1, "color": "#ffffff"}]}, "fillOpacity": 0.6},
   "encoding": {"x": {"field": "x", "type": "quantitative", "scale": {"domain": [1.9, 20], "nice": false, "zero": false}, "axis": {"values": [2.5,5,7.5,10,12.5,15,17.5,20], "labelExpr": "datum.value % 5 == 0 ? datum.label : ''", "tickSize": {"condition": {"test": "datum.value % 5 == 0", "value": -6}, "value": -3.5}, "title": "Applied current (A)"}},
    "y": {"field": "y", "type": "quantitative", "stack": null, "scale": {"domain": [-10, 60], "nice": false, "zero": false}, "axis": {"values": [-10,-5,0,5,10,15,20,25,30,35,40,45,50,55,60], "labels": false, "title": null, "tickSize": {"condition": {"test": "datum.value % 10 == 0", "value": -6}, "value": -3.5}}}}},
  {"data": {"name": "pts"}, "transform": [{"filter": "datum.p=='c' && datum.s=='D80'"}], "mark": {"type": "area", "fill": {"gradient": "linear", "x1": 0, "y1": 0, "x2": 0, "y2": 1, "stops": [{"offset": 0, "color": "#3a6fe0"}, {"offset": 1, "color": "#ffffff"}]}, "fillOpacity": 0.6},
   "encoding": {"x": {"field": "x", "type": "quantitative", "scale": {"domain": [1.9, 20], "nice": false, "zero": false}, "axis": {"values": [2.5,5,7.5,10,12.5,15,17.5,20], "labelExpr": "datum.value % 5 == 0 ? datum.label : ''", "tickSize": {"condition": {"test": "datum.value % 5 == 0", "value": -6}, "value": -3.5}, "title": "Applied current (A)"}},
    "y": {"field": "y", "type": "quantitative", "stack": null, "scale": {"domain": [-10, 60], "nice": false, "zero": false}, "axis": {"values": [-10,-5,0,5,10,15,20,25,30,35,40,45,50,55,60], "labels": false, "title": null, "tickSize": {"condition": {"test": "datum.value % 10 == 0", "value": -6}, "value": -3.5}}}}},
  {"data": {"name": "pts"}, "transform": [{"filter": "datum.p=='c' && datum.s=='D40'"}], "mark": {"type": "area", "fill": {"gradient": "linear", "x1": 0, "y1": 0, "x2": 0, "y2": 1, "stops": [{"offset": 0, "color": "#2a9d5c"}, {"offset": 1, "color": "#ffffff"}]}, "fillOpacity": 0.6},
   "encoding": {"x": {"field": "x", "type": "quantitative", "scale": {"domain": [1.9, 20], "nice": false, "zero": false}, "axis": {"values": [2.5,5,7.5,10,12.5,15,17.5,20], "labelExpr": "datum.value % 5 == 0 ? datum.label : ''", "tickSize": {"condition": {"test": "datum.value % 5 == 0", "value": -6}, "value": -3.5}, "title": "Applied current (A)"}},
    "y": {"field": "y", "type": "quantitative", "stack": null, "scale": {"domain": [-10, 60], "nice": false, "zero": false}, "axis": {"values": [-10,-5,0,5,10,15,20,25,30,35,40,45,50,55,60], "labels": false, "title": null, "tickSize": {"condition": {"test": "datum.value % 10 == 0", "value": -6}, "value": -3.5}}}}},
  {"data": {"name": "pts"}, "transform": [{"filter": "datum.p=='c' && datum.s=='D20'"}], "mark": {"type": "area", "fill": {"gradient": "linear", "x1": 0, "y1": 0, "x2": 0, "y2": 1, "stops": [{"offset": 0, "color": "#9b5fe0"}, {"offset": 1, "color": "#ffffff"}]}, "fillOpacity": 0.5},
   "encoding": {"x": {"field": "x", "type": "quantitative", "scale": {"domain": [1.9, 20], "nice": false, "zero": false}, "axis": {"values": [2.5,5,7.5,10,12.5,15,17.5,20], "labelExpr": "datum.value % 5 == 0 ? datum.label : ''", "tickSize": {"condition": {"test": "datum.value % 5 == 0", "value": -6}, "value": -3.5}, "title": "Applied current (A)"}},
    "y": {"field": "y", "type": "quantitative", "stack": null, "scale": {"domain": [-10, 60], "nice": false, "zero": false}, "axis": {"values": [-10,-5,0,5,10,15,20,25,30,35,40,45,50,55,60], "labels": false, "title": null, "tickSize": {"condition": {"test": "datum.value % 10 == 0", "value": -6}, "value": -3.5}}}}},
  {"data": {"name": "pts"}, "transform": [{"filter": "datum.p=='c' && datum.s=='D10'"}], "mark": {"type": "area", "fill": {"gradient": "linear", "x1": 0, "y1": 0, "x2": 0, "y2": 1, "stops": [{"offset": 0, "color": "#c08a10"}, {"offset": 1, "color": "#ffffff"}]}, "fillOpacity": 0.6},
   "encoding": {"x": {"field": "x", "type": "quantitative", "scale": {"domain": [1.9, 20], "nice": false, "zero": false}, "axis": {"values": [2.5,5,7.5,10,12.5,15,17.5,20], "labelExpr": "datum.value % 5 == 0 ? datum.label : ''", "tickSize": {"condition": {"test": "datum.value % 5 == 0", "value": -6}, "value": -3.5}, "title": "Applied current (A)"}},
    "y": {"field": "y", "type": "quantitative", "stack": null, "scale": {"domain": [-10, 60], "nice": false, "zero": false}, "axis": {"values": [-10,-5,0,5,10,15,20,25,30,35,40,45,50,55,60], "labels": false, "title": null, "tickSize": {"condition": {"test": "datum.value % 10 == 0", "value": -6}, "value": -3.5}}}}},
  {"data": {"values": [{"k": 1}]}, "mark": {"type": "rule", "color": "#c4c4c4", "strokeWidth": 1.2, "strokeDash": [9, 3, 2, 3]},
   "encoding": {"x": {"datum": 1.9, "type": "quantitative", "scale": {"domain": [1.9, 20], "nice": false, "zero": false}, "axis": {"values": [2.5,5,7.5,10,12.5,15,17.5,20], "labelExpr": "datum.value % 5 == 0 ? datum.label : ''", "tickSize": {"condition": {"test": "datum.value % 5 == 0", "value": -6}, "value": -3.5}, "title": "Applied current (A)"}}, "x2": {"datum": 21.6},
    "y": {"datum": 0, "type": "quantitative", "scale": {"domain": [-10, 60], "nice": false, "zero": false}, "axis": {"values": [-10,-5,0,5,10,15,20,25,30,35,40,45,50,55,60], "labels": false, "title": null, "tickSize": {"condition": {"test": "datum.value % 10 == 0", "value": -6}, "value": -3.5}}}}},
  {"data": {"name": "pts"}, "transform": [{"filter": "datum.p=='c'"}], "mark": {"type": "line", "strokeWidth": 1.3},
   "encoding": {"x": {"field": "x", "type": "quantitative", "scale": {"domain": [1.9, 20], "nice": false, "zero": false}, "axis": {"values": [2.5,5,7.5,10,12.5,15,17.5,20], "labelExpr": "datum.value % 5 == 0 ? datum.label : ''", "tickSize": {"condition": {"test": "datum.value % 5 == 0", "value": -6}, "value": -3.5}, "title": "Applied current (A)"}},
    "y": {"field": "y", "type": "quantitative", "stack": null, "scale": {"domain": [-10, 60], "nice": false, "zero": false}, "axis": {"values": [-10,-5,0,5,10,15,20,25,30,35,40,45,50,55,60], "labels": false, "title": null, "tickSize": {"condition": {"test": "datum.value % 10 == 0", "value": -6}, "value": -3.5}}},
    "color": {"field": "s", "type": "nominal", "scale": {"domain": ["Chamber size","D120","D80","D40","D20","D10"], "range": ["#505050","#e8262a","#1f6fde","#2aa15a","#a25de6","#d49b00"]}}}},
  {"data": {"values": [{"k": 1}]}, "mark": {"type": "rect", "color": "#000000"},
   "encoding": {"x": {"datum": 2.79, "type": "quantitative", "scale": {"domain": [1.9, 20], "nice": false, "zero": false}, "axis": {"values": [2.5,5,7.5,10,12.5,15,17.5,20], "labelExpr": "datum.value % 5 == 0 ? datum.label : ''", "tickSize": {"condition": {"test": "datum.value % 5 == 0", "value": -6}, "value": -3.5}, "title": "Applied current (A)"}}, "x2": {"datum": 12.82},
    "y": {"datum": 60.27, "type": "quantitative", "scale": {"domain": [-10, 60], "nice": false, "zero": false}, "axis": {"values": [-10,-5,0,5,10,15,20,25,30,35,40,45,50,55,60], "labels": false, "title": null, "tickSize": {"condition": {"test": "datum.value % 10 == 0", "value": -6}, "value": -3.5}}}, "y2": {"datum": 55.8}}},
  {"data": {"values": [{"k": 1}]}, "mark": {"type": "rect", "fill": "#ffffff", "stroke": "#000000", "strokeWidth": 1},
   "encoding": {"x": {"datum": 2.42, "type": "quantitative", "scale": {"domain": [1.9, 20], "nice": false, "zero": false}, "axis": {"values": [2.5,5,7.5,10,12.5,15,17.5,20], "labelExpr": "datum.value % 5 == 0 ? datum.label : ''", "tickSize": {"condition": {"test": "datum.value % 5 == 0", "value": -6}, "value": -3.5}, "title": "Applied current (A)"}}, "x2": {"datum": 12.45},
    "y": {"datum": 61.15, "type": "quantitative", "scale": {"domain": [-10, 60], "nice": false, "zero": false}, "axis": {"values": [-10,-5,0,5,10,15,20,25,30,35,40,45,50,55,60], "labels": false, "title": null, "tickSize": {"condition": {"test": "datum.value % 10 == 0", "value": -6}, "value": -3.5}}}, "y2": {"datum": 56.7}}},
  {"data": {"values": [{"t": "(c) 0.38"}]}, "mark": {"type": "text", "align": "left", "baseline": "middle", "fontSize": 18.5, "font": "Liberation Sans", "color": "#000000"},
   "encoding": {"x": {"datum": 2.68, "type": "quantitative", "scale": {"domain": [1.9, 20], "nice": false, "zero": false}, "axis": {"values": [2.5,5,7.5,10,12.5,15,17.5,20], "labelExpr": "datum.value % 5 == 0 ? datum.label : ''", "tickSize": {"condition": {"test": "datum.value % 5 == 0", "value": -6}, "value": -3.5}, "title": "Applied current (A)"}},
    "y": {"datum": 58.9, "type": "quantitative", "scale": {"domain": [-10, 60], "nice": false, "zero": false}, "axis": {"values": [-10,-5,0,5,10,15,20,25,30,35,40,45,50,55,60], "labels": false, "title": null, "tickSize": {"condition": {"test": "datum.value % 10 == 0", "value": -6}, "value": -3.5}}}, "text": {"field": "t"}}},
  {"data": {"values": [{"t": "G"}]}, "mark": {"type": "text", "align": "left", "baseline": "middle", "fontSize": 18.5, "font": "Liberation Sans", "fontStyle": "italic", "color": "#000000"},
   "encoding": {"x": {"datum": 7.33, "type": "quantitative", "scale": {"domain": [1.9, 20], "nice": false, "zero": false}, "axis": {"values": [2.5,5,7.5,10,12.5,15,17.5,20], "labelExpr": "datum.value % 5 == 0 ? datum.label : ''", "tickSize": {"condition": {"test": "datum.value % 5 == 0", "value": -6}, "value": -3.5}, "title": "Applied current (A)"}},
    "y": {"datum": 58.9, "type": "quantitative", "scale": {"domain": [-10, 60], "nice": false, "zero": false}, "axis": {"values": [-10,-5,0,5,10,15,20,25,30,35,40,45,50,55,60], "labels": false, "title": null, "tickSize": {"condition": {"test": "datum.value % 10 == 0", "value": -6}, "value": -3.5}}}, "text": {"field": "t"}}},
  {"data": {"values": [{"t": ", Mars"}]}, "mark": {"type": "text", "align": "left", "baseline": "middle", "fontSize": 18.5, "font": "Liberation Sans", "color": "#000000"},
   "encoding": {"x": {"datum": 8.4, "type": "quantitative", "scale": {"domain": [1.9, 20], "nice": false, "zero": false}, "axis": {"values": [2.5,5,7.5,10,12.5,15,17.5,20], "labelExpr": "datum.value % 5 == 0 ? datum.label : ''", "tickSize": {"condition": {"test": "datum.value % 5 == 0", "value": -6}, "value": -3.5}, "title": "Applied current (A)"}},
    "y": {"datum": 58.9, "type": "quantitative", "scale": {"domain": [-10, 60], "nice": false, "zero": false}, "axis": {"values": [-10,-5,0,5,10,15,20,25,30,35,40,45,50,55,60], "labels": false, "title": null, "tickSize": {"condition": {"test": "datum.value % 10 == 0", "value": -6}, "value": -3.5}}}, "text": {"field": "t"}}}
 ]
},
{
 "width": 244, "height": 396,
 "layer": [
  {"data": {"name": "pts"}, "transform": [{"filter": "datum.p=='d' && datum.s=='D80'"}], "mark": {"type": "area", "fill": {"gradient": "linear", "x1": 0, "y1": 0, "x2": 0, "y2": 1, "stops": [{"offset": 0, "color": "#3a6fe0"}, {"offset": 1, "color": "#ffffff"}]}, "fillOpacity": 0.6},
   "encoding": {"x": {"field": "x", "type": "quantitative", "scale": {"domain": [1.9, 20], "nice": false, "zero": false}, "axis": {"values": [2.5,5,7.5,10,12.5,15,17.5,20], "labelExpr": "datum.value % 5 == 0 ? datum.label : ''", "tickSize": {"condition": {"test": "datum.value % 5 == 0", "value": -6}, "value": -3.5}, "title": "Applied current (A)"}},
    "y": {"field": "y", "type": "quantitative", "stack": null, "scale": {"domain": [-10, 60], "nice": false, "zero": false}, "axis": {"values": [-10,-5,0,5,10,15,20,25,30,35,40,45,50,55,60], "labels": false, "title": null, "tickSize": {"condition": {"test": "datum.value % 10 == 0", "value": -6}, "value": -3.5}}}}},
  {"data": {"name": "pts"}, "transform": [{"filter": "datum.p=='d' && datum.s=='D40'"}], "mark": {"type": "area", "fill": {"gradient": "linear", "x1": 0, "y1": 0, "x2": 0, "y2": 1, "stops": [{"offset": 0, "color": "#2a9d5c"}, {"offset": 1, "color": "#ffffff"}]}, "fillOpacity": 0.6},
   "encoding": {"x": {"field": "x", "type": "quantitative", "scale": {"domain": [1.9, 20], "nice": false, "zero": false}, "axis": {"values": [2.5,5,7.5,10,12.5,15,17.5,20], "labelExpr": "datum.value % 5 == 0 ? datum.label : ''", "tickSize": {"condition": {"test": "datum.value % 5 == 0", "value": -6}, "value": -3.5}, "title": "Applied current (A)"}},
    "y": {"field": "y", "type": "quantitative", "stack": null, "scale": {"domain": [-10, 60], "nice": false, "zero": false}, "axis": {"values": [-10,-5,0,5,10,15,20,25,30,35,40,45,50,55,60], "labels": false, "title": null, "tickSize": {"condition": {"test": "datum.value % 10 == 0", "value": -6}, "value": -3.5}}}}},
  {"data": {"name": "pts"}, "transform": [{"filter": "datum.p=='d' && datum.s=='D20'"}], "mark": {"type": "area", "fill": {"gradient": "linear", "x1": 0, "y1": 0, "x2": 0, "y2": 1, "stops": [{"offset": 0, "color": "#9b5fe0"}, {"offset": 1, "color": "#ffffff"}]}, "fillOpacity": 0.5},
   "encoding": {"x": {"field": "x", "type": "quantitative", "scale": {"domain": [1.9, 20], "nice": false, "zero": false}, "axis": {"values": [2.5,5,7.5,10,12.5,15,17.5,20], "labelExpr": "datum.value % 5 == 0 ? datum.label : ''", "tickSize": {"condition": {"test": "datum.value % 5 == 0", "value": -6}, "value": -3.5}, "title": "Applied current (A)"}},
    "y": {"field": "y", "type": "quantitative", "stack": null, "scale": {"domain": [-10, 60], "nice": false, "zero": false}, "axis": {"values": [-10,-5,0,5,10,15,20,25,30,35,40,45,50,55,60], "labels": false, "title": null, "tickSize": {"condition": {"test": "datum.value % 10 == 0", "value": -6}, "value": -3.5}}}}},
  {"data": {"name": "pts"}, "transform": [{"filter": "datum.p=='d' && datum.s=='D10'"}], "mark": {"type": "area", "fill": {"gradient": "linear", "x1": 0, "y1": 0, "x2": 0, "y2": 1, "stops": [{"offset": 0, "color": "#c08a10"}, {"offset": 1, "color": "#ffffff"}]}, "fillOpacity": 0.6},
   "encoding": {"x": {"field": "x", "type": "quantitative", "scale": {"domain": [1.9, 20], "nice": false, "zero": false}, "axis": {"values": [2.5,5,7.5,10,12.5,15,17.5,20], "labelExpr": "datum.value % 5 == 0 ? datum.label : ''", "tickSize": {"condition": {"test": "datum.value % 5 == 0", "value": -6}, "value": -3.5}, "title": "Applied current (A)"}},
    "y": {"field": "y", "type": "quantitative", "stack": null, "scale": {"domain": [-10, 60], "nice": false, "zero": false}, "axis": {"values": [-10,-5,0,5,10,15,20,25,30,35,40,45,50,55,60], "labels": false, "title": null, "tickSize": {"condition": {"test": "datum.value % 10 == 0", "value": -6}, "value": -3.5}}}}},
  {"data": {"values": [{"k": 1}]}, "mark": {"type": "rule", "color": "#c4c4c4", "strokeWidth": 1.2, "strokeDash": [9, 3, 2, 3]},
   "encoding": {"x": {"datum": 1.9, "type": "quantitative", "scale": {"domain": [1.9, 20], "nice": false, "zero": false}, "axis": {"values": [2.5,5,7.5,10,12.5,15,17.5,20], "labelExpr": "datum.value % 5 == 0 ? datum.label : ''", "tickSize": {"condition": {"test": "datum.value % 5 == 0", "value": -6}, "value": -3.5}, "title": "Applied current (A)"}}, "x2": {"datum": 20.8},
    "y": {"datum": 0, "type": "quantitative", "scale": {"domain": [-10, 60], "nice": false, "zero": false}, "axis": {"values": [-10,-5,0,5,10,15,20,25,30,35,40,45,50,55,60], "labels": false, "title": null, "tickSize": {"condition": {"test": "datum.value % 10 == 0", "value": -6}, "value": -3.5}}}}},
  {"data": {"name": "pts"}, "transform": [{"filter": "datum.p=='d'"}], "mark": {"type": "line", "strokeWidth": 1.3},
   "encoding": {"x": {"field": "x", "type": "quantitative", "scale": {"domain": [1.9, 20], "nice": false, "zero": false}, "axis": {"values": [2.5,5,7.5,10,12.5,15,17.5,20], "labelExpr": "datum.value % 5 == 0 ? datum.label : ''", "tickSize": {"condition": {"test": "datum.value % 5 == 0", "value": -6}, "value": -3.5}, "title": "Applied current (A)"}},
    "y": {"field": "y", "type": "quantitative", "stack": null, "scale": {"domain": [-10, 60], "nice": false, "zero": false}, "axis": {"values": [-10,-5,0,5,10,15,20,25,30,35,40,45,50,55,60], "labels": false, "title": null, "tickSize": {"condition": {"test": "datum.value % 10 == 0", "value": -6}, "value": -3.5}}},
    "color": {"field": "s", "type": "nominal", "scale": {"domain": ["Chamber size","D120","D80","D40","D20","D10"], "range": ["#505050","#e8262a","#1f6fde","#2aa15a","#a25de6","#d49b00"]}}}},
  {"data": {"values": [{"k": 1}]}, "mark": {"type": "rect", "color": "#000000"},
   "encoding": {"x": {"datum": 2.79, "type": "quantitative", "scale": {"domain": [1.9, 20], "nice": false, "zero": false}, "axis": {"values": [2.5,5,7.5,10,12.5,15,17.5,20], "labelExpr": "datum.value % 5 == 0 ? datum.label : ''", "tickSize": {"condition": {"test": "datum.value % 5 == 0", "value": -6}, "value": -3.5}, "title": "Applied current (A)"}}, "x2": {"datum": 11.22},
    "y": {"datum": 60.27, "type": "quantitative", "scale": {"domain": [-10, 60], "nice": false, "zero": false}, "axis": {"values": [-10,-5,0,5,10,15,20,25,30,35,40,45,50,55,60], "labels": false, "title": null, "tickSize": {"condition": {"test": "datum.value % 10 == 0", "value": -6}, "value": -3.5}}}, "y2": {"datum": 55.8}}},
  {"data": {"values": [{"k": 1}]}, "mark": {"type": "rect", "fill": "#ffffff", "stroke": "#000000", "strokeWidth": 1},
   "encoding": {"x": {"datum": 2.42, "type": "quantitative", "scale": {"domain": [1.9, 20], "nice": false, "zero": false}, "axis": {"values": [2.5,5,7.5,10,12.5,15,17.5,20], "labelExpr": "datum.value % 5 == 0 ? datum.label : ''", "tickSize": {"condition": {"test": "datum.value % 5 == 0", "value": -6}, "value": -3.5}, "title": "Applied current (A)"}}, "x2": {"datum": 10.85},
    "y": {"datum": 61.15, "type": "quantitative", "scale": {"domain": [-10, 60], "nice": false, "zero": false}, "axis": {"values": [-10,-5,0,5,10,15,20,25,30,35,40,45,50,55,60], "labels": false, "title": null, "tickSize": {"condition": {"test": "datum.value % 10 == 0", "value": -6}, "value": -3.5}}}, "y2": {"datum": 56.7}}},
  {"data": {"values": [{"t": "(d) 1"}]}, "mark": {"type": "text", "align": "left", "baseline": "middle", "fontSize": 18.5, "font": "Liberation Sans", "color": "#000000"},
   "encoding": {"x": {"datum": 2.68, "type": "quantitative", "scale": {"domain": [1.9, 20], "nice": false, "zero": false}, "axis": {"values": [2.5,5,7.5,10,12.5,15,17.5,20], "labelExpr": "datum.value % 5 == 0 ? datum.label : ''", "tickSize": {"condition": {"test": "datum.value % 5 == 0", "value": -6}, "value": -3.5}, "title": "Applied current (A)"}},
    "y": {"datum": 58.9, "type": "quantitative", "scale": {"domain": [-10, 60], "nice": false, "zero": false}, "axis": {"values": [-10,-5,0,5,10,15,20,25,30,35,40,45,50,55,60], "labels": false, "title": null, "tickSize": {"condition": {"test": "datum.value % 10 == 0", "value": -6}, "value": -3.5}}}, "text": {"field": "t"}}},
  {"data": {"values": [{"t": "G"}]}, "mark": {"type": "text", "align": "left", "baseline": "middle", "fontSize": 18.5, "font": "Liberation Sans", "fontStyle": "italic", "color": "#000000"},
   "encoding": {"x": {"datum": 5.5, "type": "quantitative", "scale": {"domain": [1.9, 20], "nice": false, "zero": false}, "axis": {"values": [2.5,5,7.5,10,12.5,15,17.5,20], "labelExpr": "datum.value % 5 == 0 ? datum.label : ''", "tickSize": {"condition": {"test": "datum.value % 5 == 0", "value": -6}, "value": -3.5}, "title": "Applied current (A)"}},
    "y": {"datum": 58.9, "type": "quantitative", "scale": {"domain": [-10, 60], "nice": false, "zero": false}, "axis": {"values": [-10,-5,0,5,10,15,20,25,30,35,40,45,50,55,60], "labels": false, "title": null, "tickSize": {"condition": {"test": "datum.value % 10 == 0", "value": -6}, "value": -3.5}}}, "text": {"field": "t"}}},
  {"data": {"values": [{"t": ", Earth"}]}, "mark": {"type": "text", "align": "left", "baseline": "middle", "fontSize": 18.5, "font": "Liberation Sans", "color": "#000000"},
   "encoding": {"x": {"datum": 6.57, "type": "quantitative", "scale": {"domain": [1.9, 20], "nice": false, "zero": false}, "axis": {"values": [2.5,5,7.5,10,12.5,15,17.5,20], "labelExpr": "datum.value % 5 == 0 ? datum.label : ''", "tickSize": {"condition": {"test": "datum.value % 5 == 0", "value": -6}, "value": -3.5}, "title": "Applied current (A)"}},
    "y": {"datum": 58.9, "type": "quantitative", "scale": {"domain": [-10, 60], "nice": false, "zero": false}, "axis": {"values": [-10,-5,0,5,10,15,20,25,30,35,40,45,50,55,60], "labels": false, "title": null, "tickSize": {"condition": {"test": "datum.value % 10 == 0", "value": -6}, "value": -3.5}}}, "text": {"field": "t"}}}
 ]
}
]
}
